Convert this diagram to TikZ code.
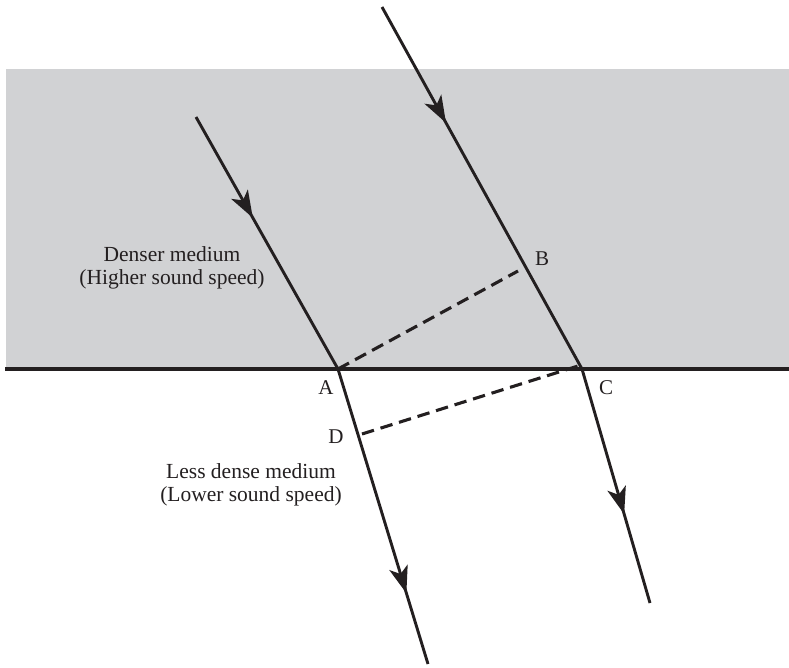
\documentclass[tikz,border=0pt]{standalone}
\usepackage{fontspec}
\setmainfont{Liberation Serif}
\usetikzlibrary{arrows.meta,decorations.markings}
\definecolor{medgray}{RGB}{209,210,212}
\definecolor{ink}{RGB}{35,31,32}
\tikzset{
  ray/.style={draw=ink, line width=2.9pt, line cap=butt},
  dash line/.style={draw=ink, line width=3.1pt, dash pattern=on 12.5pt off 6.9pt},
  midarrow/.style={postaction={decorate}, decoration={markings,
     mark=at position #1 with {\arrow{Stealth[length=27pt,width=19pt,inset=7pt]}}}},
  lbl/.style={font=\fontsize{21}{23}\selectfont, text=ink, inner sep=0pt},
  medium/.style={font=\fontsize{21.5}{23.5}\selectfont, text=ink, align=center, inner sep=0pt}
}
\begin{document}
\begin{tikzpicture}[x=1pt,y=-1pt]
\useasboundingbox (0,0) rectangle (789,667);
\fill[medgray] (6,69) rectangle (789,369);
\coordinate (L0) at (382,7);
\coordinate (K0) at (196,117);
\coordinate (A) at (338,369);
\coordinate (C) at (582,369);
\coordinate (B) at (518,271);
\coordinate (D) at (362,434);
\coordinate (Aend) at (428,664);
\coordinate (Cend) at (650,603);
\coordinate (IL) at (5,369);
\coordinate (IR) at (789,369);
% interface
\draw[draw=ink, line width=4pt] (IL) -- (IR);
% rays
\draw[ray, midarrow=0.40] (K0) -- (A);
\draw[ray, midarrow=0.32] (L0) -- (C);
\draw[ray, midarrow=0.76] (A) -- (Aend);
\draw[ray, midarrow=0.62] (C) -- (Cend);
% wavefronts
\draw[dash line] (A) -- (B);
\draw[dash line] (D) -- ([xshift=-4pt,yshift=3pt]C);
% labels
\node[lbl] (lA) at (326,388) {A};
\node[lbl] (lB) at (542,259) {B};
\node[lbl] (lC) at (606,388) {C};
\node[lbl] (lD) at (336,437) {D};
\node[medium] (dense) at (172,268) {Denser medium\\(Higher sound speed)};
\node[medium] (less) at (251,485) {Less dense medium\\(Lower sound speed)};
\end{tikzpicture}
\end{document}
